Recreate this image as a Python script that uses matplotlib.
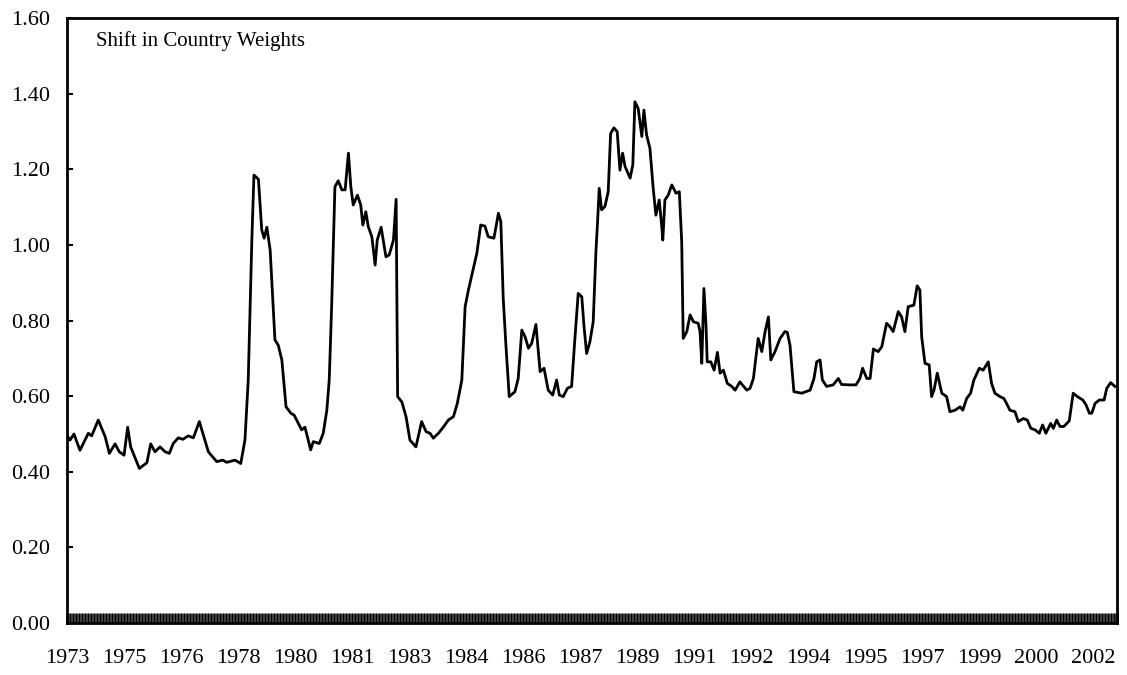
#importing libraries
import matplotlib.pyplot as plt
import numpy as np

plt.rcParams['font.family'] = ['Liberation Serif', 'DejaVu Serif']

months = [0, 1.0, 2.3, 4.3, 7.1, 8.2, 10.4, 12.7, 14.1, 16.0, 17.4, 19.0, 20.2, 21.2, 24.1,
          26.6, 27.9, 29.3, 31.0, 32.7, 34.1, 35.4, 37.1, 38.6, 40.4, 42.1, 44.1, 47.1, 49.9,
          51.9, 53.2, 56.0, 57.9, 59.3, 60.4, 61.6, 62.3, 63.8, 64.9, 65.7, 66.6, 67.7, 69.3,
          70.4, 71.6, 73.0, 74.6, 75.7, 77.1, 78.2, 79.3, 80.4, 81.2, 82.1, 84.1, 85.4, 86.6,
          87.4, 88.2, 89.3, 90.4, 91.6, 92.7, 93.8, 94.6, 95.4, 96.8, 97.9, 98.6, 99.6, 100.4,
          101.6, 102.7, 103.4, 104.7, 106.3, 107.4, 108.8, 109.7, 110.2, 111.6, 113.0, 114.3,
          116.3, 118.2, 119.7, 121.0, 122.1, 123.8, 125.4, 127.1, 128.8, 130.1, 131.6, 132.7,
          133.8, 135.2, 136.6, 137.9, 139.3, 140.4, 142.3, 143.8, 144.6, 145.4, 146.3, 147.4,
          149.3, 150.4, 151.6, 152.7, 153.8, 154.9, 156.3, 157.7, 159.0, 160.4, 161.9, 163.2,
          164.1, 165.4, 166.8, 168.2, 169.3, 170.4, 171.6, 172.3, 173.2, 174.3, 175.4, 176.3,
          176.8, 177.4, 178.2, 179.3, 180.4, 181.2, 182.3, 183.4, 184.3, 185.2, 186.0, 187.7,
          188.6, 189.3, 190.4, 191.6, 192.3, 193.2, 194.3, 195.4, 196.3, 197.4, 198.2, 198.6,
          199.3, 200.4, 201.6, 203.0, 204.1, 204.9, 205.4, 206.6, 207.7, 208.8, 210.4, 211.0,
          211.6, 212.3, 213.0, 213.4, 214.6, 215.7, 216.8, 217.7, 218.8, 220.1, 221.6, 222.7,
          224.3, 226.6, 227.7, 228.8, 230.4, 231.6, 232.7, 233.8, 234.6, 236.0, 237.7, 239.3,
          240.1, 241.0, 242.3, 244.9, 247.7, 249.0, 249.9, 251.0, 251.8, 253.2, 255.4, 257.1,
          258.2, 261.0, 263.0, 264.3, 265.2, 266.6, 267.7, 268.8, 270.4, 271.6, 273.2, 274.3,
          275.4, 277.1, 278.2, 279.3, 280.4, 282.3, 283.4, 284.3, 284.9, 286.0, 287.4, 288.2,
          289.0, 290.1, 291.6, 293.2, 294.3, 296.0, 297.7, 298.6, 299.9, 301.2, 302.3, 304.1,
          305.4, 307.1, 308.2, 309.3, 311.0, 312.3, 313.2, 314.3, 316.0, 317.1, 318.8, 320.1,
          321.3, 322.7, 324.1, 325.2, 326.3, 327.9, 328.8, 329.9, 331.0, 332.3, 334.1, 335.4,
          336.8, 338.6, 339.7, 340.8, 341.6, 342.7, 344.1, 345.7, 346.6, 347.9, 349.3]

shift = [0.497, 0.484, 0.500, 0.457, 0.502, 0.495, 0.537, 0.493, 0.449, 0.474, 0.453, 0.444,
         0.518, 0.466, 0.409, 0.424, 0.474, 0.453, 0.466, 0.453, 0.449, 0.475, 0.490, 0.486,
         0.495, 0.490, 0.533, 0.453, 0.427, 0.431, 0.425, 0.431, 0.422, 0.484, 0.643, 1.013,
         1.185, 1.174, 1.040, 1.018, 1.047, 0.987, 0.749, 0.735, 0.696, 0.572, 0.555, 0.550,
         0.528, 0.511, 0.518, 0.484, 0.458, 0.480, 0.475, 0.502, 0.563, 0.643, 0.837, 1.154,
         1.170, 1.146, 1.146, 1.243, 1.154, 1.106, 1.132, 1.106, 1.053, 1.088, 1.049, 1.022,
         0.947, 1.013, 1.047, 0.969, 0.974, 1.013, 1.121, 0.599, 0.585, 0.546, 0.484, 0.466,
         0.533, 0.506, 0.502, 0.489, 0.502, 0.518, 0.537, 0.546, 0.581, 0.643, 0.837, 0.881,
         0.929, 0.978, 1.053, 1.050, 1.022, 1.018, 1.084, 1.062, 0.859, 0.735, 0.599, 0.612,
         0.647, 0.775, 0.757, 0.727, 0.740, 0.790, 0.665, 0.674, 0.616, 0.603, 0.643, 0.603,
         0.599, 0.621, 0.626, 0.753, 0.872, 0.863, 0.788, 0.713, 0.744, 0.797, 0.982, 1.053,
         1.150, 1.093, 1.102, 1.141, 1.295, 1.310, 1.300, 1.198, 1.243, 1.208, 1.177, 1.212,
         1.379, 1.361, 1.287, 1.357, 1.291, 1.256, 1.150, 1.079, 1.119, 1.053, 1.013, 1.119,
         1.132, 1.159, 1.137, 1.141, 1.009, 0.753, 0.771, 0.815, 0.797, 0.793, 0.771, 0.687,
         0.885, 0.788, 0.691, 0.691, 0.669, 0.716, 0.661, 0.669, 0.634, 0.626, 0.616, 0.638,
         0.616, 0.621, 0.647, 0.753, 0.718, 0.771, 0.810, 0.696, 0.718, 0.753, 0.771, 0.769,
         0.735, 0.612, 0.608, 0.616, 0.647, 0.691, 0.696, 0.643, 0.626, 0.630, 0.647, 0.631,
         0.630, 0.630, 0.647, 0.674, 0.647, 0.647, 0.725, 0.718, 0.731, 0.793, 0.784, 0.771,
         0.824, 0.810, 0.771, 0.837, 0.841, 0.892, 0.881, 0.757, 0.687, 0.683, 0.599, 0.616,
         0.661, 0.608, 0.599, 0.559, 0.563, 0.572, 0.563, 0.594, 0.608, 0.643, 0.674, 0.669,
         0.691, 0.634, 0.608, 0.599, 0.594, 0.581, 0.563, 0.559, 0.533, 0.541, 0.537, 0.515,
         0.511, 0.502, 0.524, 0.502, 0.528, 0.515, 0.537, 0.520, 0.520, 0.535, 0.608, 0.599,
         0.590, 0.577, 0.555, 0.555, 0.581, 0.590, 0.590, 0.621, 0.636, 0.626]

#x tick labels, one every 19 months
year_labels = ['1973', '1975', '1976', '1978', '1980', '1981', '1983', '1984', '1986', '1987',
               '1989', '1991', '1992', '1994', '1995', '1997', '1999', '2000', '2002']
label_step = 19
n_months = 350

fig = plt.figure(figsize=(11.27, 6.75), dpi=100)
ax = fig.add_axes([0.0595, 0.077, 0.9316, 0.896])

ax.plot(months, shift, color='black', lw=2.0)

ax.set_xlim(0, n_months)
ax.set_ylim(0, 1.6)

#y axis
ax.set_yticks(np.arange(0, 1.61, 0.2))
ax.set_yticklabels(['{0:.2f}'.format(v) for v in np.arange(0, 1.61, 0.2)])
ax.tick_params(axis='y', direction='in', length=4, width=1.5, labelsize=16, pad=12)

#x axis: labels plus a dense monthly tick band
ax.set_xticks(np.arange(len(year_labels))*label_step)
ax.set_xticklabels(year_labels)
ax.set_xticks(np.arange(0, n_months + 1), minor=True)
ax.tick_params(axis='x', which='major', direction='in', length=7, width=1.8,
               labelsize=16, pad=19)
ax.tick_params(axis='x', which='minor', direction='in', length=7, width=1.8)

for s in ax.spines.values():
    s.set_linewidth(2)

ax.text(0.028, 0.978, 'Shift in Country Weights', transform=ax.transAxes,
        fontsize=15, va='top', ha='left')

plt.savefig('out.png', dpi=100)
